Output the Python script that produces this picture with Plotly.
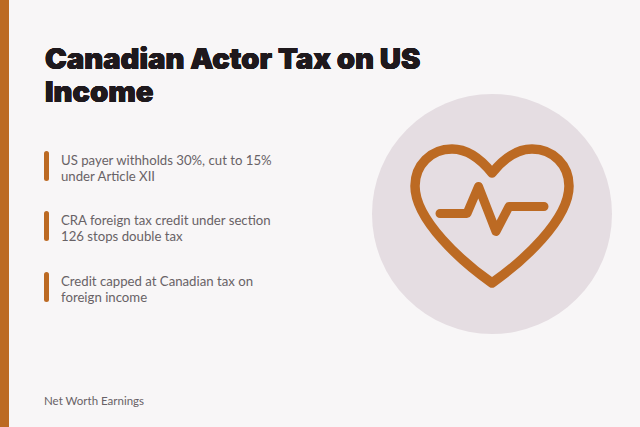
import plotly.graph_objects as go

TITLE_LINES = ["Canadian Actor Tax on US", "Income"]
TITLE_Y = [58, 91]
BULLETS = [
    ["US payer withholds 30%, cut to 15%", "under Article XII"],
    ["CRA foreign tax credit under section", "126 stops double tax"],
    ["Credit capped at Canadian tax on", "foreign income"],
]
BULLET_Y = [160, 220, 281]
FOOTER = "Net Worth Earnings"

BG = "#F8F6F7"
ACCENT = "#BC6A23"
CIRCLE = "#E5DDE2"
DARK = "#1F191D"
BODY = "#686266"

HEART = ("M 492 173 C 480 158, 466 149, 452 149 C 431 149, 415 165, 415 186 "
         "C 415 220, 462 262, 492 283 C 522 262, 569 220, 569 186 "
         "C 569 165, 553 149, 532 149 C 518 149, 504 158, 492 173")
PULSE = "M 440 213.5 L 467 213.5 L 478.5 186.5 L 496 231.5 L 509 206.5 L 544 206.5"

fig = go.Figure()
shapes = [
    dict(type="rect", x0=0, x1=9, y0=0, y1=427, fillcolor=ACCENT, line_width=0),
    dict(type="circle", x0=372, x1=612, y0=94, y1=334, fillcolor=CIRCLE, line_width=0),
    dict(type="path", path=HEART, line=dict(color=ACCENT, width=9.5)),
    dict(type="path", path=PULSE, line=dict(color=ACCENT, width=9)),
]
annotations = []


def add_text(x, y, text, size, color, family, weight=400, shadow=None):
    font = dict(size=size, color=color, family=family, weight=weight)
    if shadow:
        font["shadow"] = shadow
    annotations.append(dict(x=x, y=y, text=text, showarrow=False, xanchor="left", yanchor="middle", font=font))


BOLDER = f"0.4px 0 0 {DARK}, -0.4px 0 0 {DARK}, 0 0.4px 0 {DARK}, 0 -0.4px 0 {DARK}"
for line, y in zip(TITLE_LINES, TITLE_Y):
    add_text(43, y, line, 29.2, DARK, "Inter", 900, BOLDER)

for lines, y in zip(BULLETS, BULLET_Y):
    shapes.append(dict(type="line", x0=46.5, x1=46.5, y0=y - 6.5, y1=y + 18.5, line=dict(color=ACCENT, width=5)))
    add_text(58.5, y, lines[0], 13.2, BODY, "Lato")
    add_text(58.5, y + 16, lines[1], 13.2, BODY, "Lato")

add_text(42, 400, FOOTER, 11.5, BODY, "Lato")

fig.update_layout(
    margin=dict(l=0, r=0, t=0, b=0), width=640, height=427,
    paper_bgcolor=BG, plot_bgcolor=BG, showlegend=False,
    xaxis=dict(range=[0, 640], visible=False, fixedrange=True),
    yaxis=dict(range=[427, 0], visible=False, fixedrange=True),
    shapes=shapes, annotations=annotations,
)
POST = """
document.body.style.margin = '0';
document.body.style.overflow = 'hidden';
document.body.style.background = '%s';
document.querySelectorAll('.shapelayer path').forEach(function (p) {
  p.style.strokeLinejoin = 'round';
  p.style.strokeLinecap = 'round';
});
""" % BG
fig.write_html("out.html", config=dict(displayModeBar=False), post_script=POST)
